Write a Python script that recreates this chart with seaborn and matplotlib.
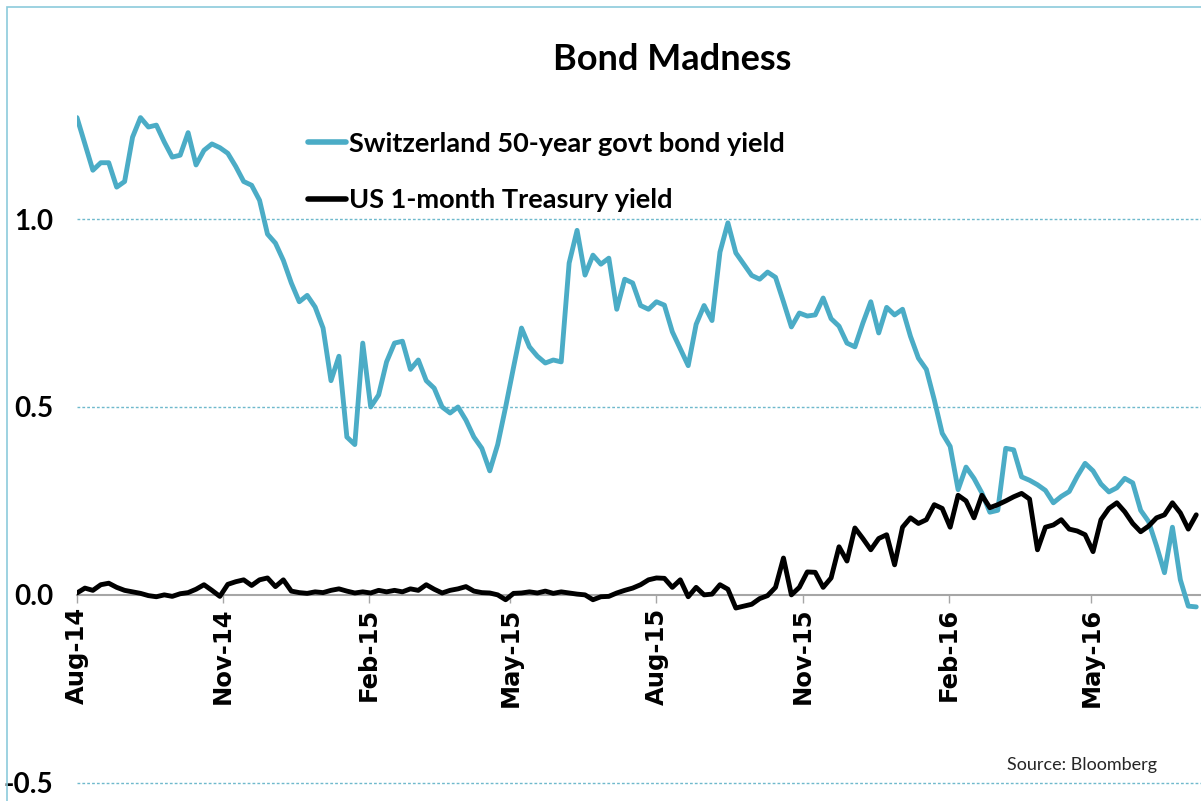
import pandas as pd
import matplotlib
matplotlib.use("Agg")
import matplotlib.pyplot as plt
import matplotlib.dates as mdates
from matplotlib.patches import Rectangle
import seaborn as sns

# dates every 5 days
dates = pd.date_range("2014-08-01", periods=142, freq="5D")

swiss_50y = [
    1.27, 1.20, 1.13, 1.15, 1.15, 1.085, 1.10, 1.218, 1.27, 1.245,
    1.25, 1.205, 1.165, 1.17, 1.23, 1.144, 1.183, 1.20, 1.19, 1.175,
    1.14, 1.10, 1.09, 1.05, 0.96, 0.936, 0.89, 0.83, 0.78, 0.797,
    0.766, 0.71, 0.57, 0.635, 0.42, 0.40, 0.67, 0.50, 0.532, 0.62,
    0.67, 0.675, 0.60, 0.625, 0.57, 0.55, 0.50, 0.484, 0.50, 0.465,
    0.42, 0.39, 0.33, 0.40, 0.50, 0.606, 0.71, 0.66, 0.635, 0.617,
    0.625, 0.62, 0.883, 0.97, 0.851, 0.904, 0.88, 0.896, 0.76, 0.84,
    0.83, 0.77, 0.76, 0.78, 0.771, 0.70, 0.655, 0.61, 0.72, 0.77,
    0.73, 0.912, 0.99, 0.91, 0.88, 0.85, 0.84, 0.859, 0.845, 0.78,
    0.713, 0.75, 0.742, 0.745, 0.79, 0.735, 0.715, 0.67, 0.66, 0.723,
    0.78, 0.697, 0.765, 0.745, 0.76, 0.688, 0.63, 0.60, 0.519, 0.43,
    0.395, 0.28, 0.34, 0.31, 0.271, 0.22, 0.225, 0.39, 0.386, 0.314,
    0.305, 0.293, 0.278, 0.245, 0.262, 0.275, 0.315, 0.35, 0.33, 0.295,
    0.274, 0.285, 0.31, 0.298, 0.225, 0.195, 0.13, 0.059, 0.18, 0.04,
    -0.03, -0.032,
]

us_1m = [
    0.005, 0.018, 0.012, 0.027, 0.031, 0.02, 0.012, 0.008, 0.004, -0.002,
    -0.005, 0.0, -0.004, 0.003, 0.006, 0.015, 0.027, 0.012, -0.004, 0.028,
    0.035, 0.04, 0.025, 0.04, 0.045, 0.022, 0.04, 0.01, 0.006, 0.004,
    0.008, 0.006, 0.012, 0.016, 0.01, 0.005, 0.008, 0.005, 0.012, 0.008,
    0.012, 0.008, 0.016, 0.012, 0.027, 0.015, 0.005, 0.012, 0.016, 0.022,
    0.01, 0.006, 0.005, 0.0, -0.013, 0.004, 0.005, 0.008, 0.005, 0.01,
    0.004, 0.008, 0.005, 0.002, 0.0, -0.013, -0.005, -0.004, 0.005, 0.012,
    0.018, 0.027, 0.04, 0.045, 0.044, 0.02, 0.04, -0.005, 0.02, 0.0,
    0.002, 0.027, 0.015, -0.035, -0.03, -0.025, -0.01, -0.002, 0.02, 0.098,
    0.0, 0.02, 0.061, 0.06, 0.02, 0.045, 0.128, 0.09, 0.178, 0.15,
    0.12, 0.15, 0.16, 0.08, 0.18, 0.205, 0.19, 0.2, 0.24, 0.23,
    0.18, 0.265, 0.25, 0.205, 0.265, 0.232, 0.24, 0.25, 0.261, 0.27,
    0.255, 0.12, 0.18, 0.186, 0.2, 0.175, 0.17, 0.16, 0.115, 0.2,
    0.23, 0.245, 0.221, 0.19, 0.168, 0.183, 0.205, 0.213, 0.245, 0.218,
    0.175, 0.213,
]

series_names = ["Switzerland 50-year govt bond yield", "US 1-month Treasury yield"]
y_ticks = [-0.5, 0.0, 0.5, 1.0]

df = pd.concat([
    pd.DataFrame({"date": dates, "yield": swiss_50y, "series": series_names[0]}),
    pd.DataFrame({"date": dates, "yield": us_1m, "series": series_names[1]}),
])

sns.set_theme(style="white")
plt.rcParams["font.family"] = ["Lato", "DejaVu Sans"]
plt.rcParams["text.color"] = "black"
plt.rcParams["xtick.color"] = "black"
plt.rcParams["ytick.color"] = "black"

fig = plt.figure(figsize=(12.01, 8.01), dpi=100)
ax = fig.add_axes([0.0641, 0.0087, 0.9359, 0.9289])

teal = "#4bacc6"
sns.lineplot(data=df, x="date", y="yield", hue="series",
             palette=[teal, "black"], linewidth=3.5, ax=ax)

ax.set_xlim(pd.Timestamp("2014-08-01"), pd.Timestamp("2016-07-09"))
ax.set_ylim(-0.53, 1.45)
ax.set_yticks(y_ticks)
ax.set_yticklabels([f"{v:.1f}" for v in y_ticks], fontsize=20, fontweight="bold")
for v in [-0.5, 0.5, 1.0]:
    ax.axhline(v, color="#6fb9cc", lw=1, ls=(0, (2, 1.5)), zorder=0)

ax.set_xlabel("")
ax.set_ylabel("")
for s in ["top", "right", "left"]:
    ax.spines[s].set_visible(False)
ax.spines["bottom"].set_position(("data", 0))
ax.spines["bottom"].set_color("#a6a6a6")
ax.spines["bottom"].set_linewidth(1.5)
ax.spines["bottom"].set_zorder(1)

ax.xaxis.set_major_locator(mdates.MonthLocator(bymonth=[2, 5, 8, 11]))
ax.xaxis.set_major_formatter(mdates.DateFormatter("%b-%y"))
ax.tick_params(axis="x", which="major", length=6, width=1, color="#a6a6a6",
               labelcolor="black", direction="out", pad=3, bottom=True)
ax.tick_params(axis="y", length=0, pad=17, labelcolor="black")
for lbl in ax.get_xticklabels():
    lbl.set_rotation(90)
    lbl.set_fontfamily("DejaVu Sans")
    lbl.set_fontweight("bold")
    lbl.set_fontsize(17.5)
    lbl.set_va("top")

leg = ax.legend(loc="upper left", bbox_to_anchor=(0.2055, 0.89), frameon=False,
                handlelength=1.4, handletextpad=0.1, labelspacing=1.2,
                borderaxespad=0, borderpad=0,
                prop={"family": "Lato", "weight": "bold", "size": 19.5})
for line in leg.get_lines():
    line.set_linewidth(4)
for t in leg.get_texts():
    t.set_color("black")

fig.text(672 / 1201, 1 - 70 / 801, "Bond Madness", ha="center", va="baseline",
         fontsize=26, fontweight="bold", color="black")
fig.text(1157 / 1201, 1 - 765 / 801, "Source: Bloomberg", ha="right", va="center",
         fontsize=13, color="#262626")

fig.add_artist(Rectangle((7 / 1201, -0.05), 1.2, 1.05 - 7 / 801,
                         transform=fig.transFigure, fill=False,
                         edgecolor="#8ccbdb", lw=1.2))

fig.savefig("out.png", dpi=100)
